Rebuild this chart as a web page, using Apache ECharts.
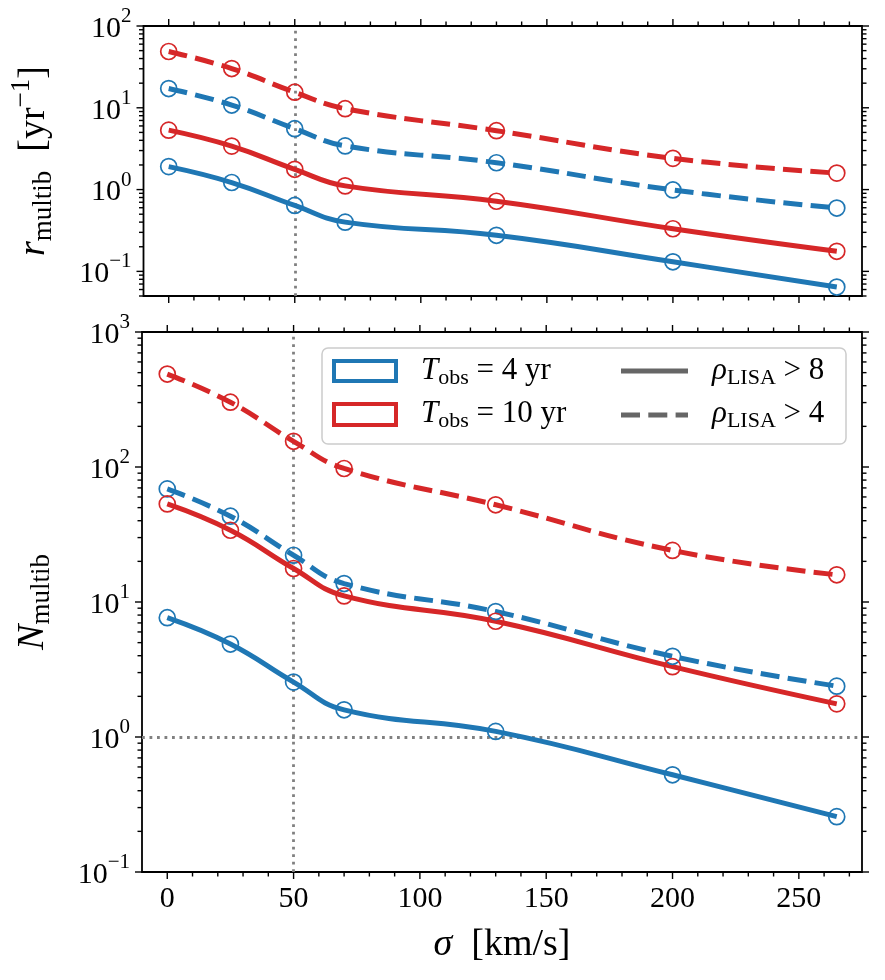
<!DOCTYPE html>
<html>
<head>
<meta charset="utf-8">
<script src="https://cdn.jsdelivr.net/npm/echarts@6/dist/echarts.min.js"></script>
<style>
  html, body { margin: 0; padding: 0; background: #fff; }
  #main { width: 885px; height: 980px; }
</style>
</head>
<body>
<div id="main"></div>
<script>
// sigma [km/s] of the simulated runs
const sigma = [0, 25, 50, 70, 130, 200, 265];

// top panel: rate of multiple binaries [1/yr]
const rate4_snr8 = [1.91, 1.22, 0.64, 0.40, 0.276, 0.131, 0.0643];
const rate4_snr4 = [17.2, 10.8, 5.55, 3.42, 2.13, 0.99, 0.595];
const rate10_snr8 = [5.33, 3.40, 1.77, 1.11, 0.72, 0.332, 0.176];
const rate10_snr4 = [48.8, 30.2, 15.5, 9.75, 5.25, 2.41, 1.59];

// bottom panel: number of multiple binaries
const num4_snr8 = [7.65, 4.88, 2.55, 1.59, 1.10, 0.525, 0.257];
const num4_snr4 = [68.8, 43.2, 22.2, 13.7, 8.5, 3.96, 2.38];
const num10_snr8 = [53.3, 34.0, 17.7, 11.1, 7.2, 3.32, 1.76];
const num10_snr4 = [488, 302, 155, 97.5, 52.5, 24.1, 15.9];

// axes
const xRange = [-10, 275];
const xMajorTicks = [0, 50, 100, 150, 200, 250];
const xMinorStep = 10;
const topRange = [0.05, 100];
const botRange = [0.1, 1000];
const logMantissas = [1, 2, 3, 4, 5, 6, 7, 8, 9];
const refSigma = 50;
const refCount = 1;

const SERIF = '"Liberation Serif", "DejaVu Serif", serif';
const BLUE = '#1f77b4', RED = '#d62728', GRAY = '#808080', LEG_GRAY = '#666666';
const DASH = [19, 8.3];
const DOT = [2.8, 4.7];

let chart = echarts.init(document.getElementById('main'));

let isPow10 = (v) => {
  let l = Math.log10(v);
  return Math.abs(l - Math.round(l)) < 1e-6;
};

let powLabel = (v) => {
  if (!isPow10(v)) return '';
  let e = Math.round(Math.log10(v));
  return '{b|10}{sup|' + (e < 0 ? '\u2212' + (-e) : e) + '}';
};

const labelRich = {
  b: { fontFamily: SERIF, fontSize: 30, lineHeight: 42, padding: [6, 0, 0, 0], verticalAlign: 'middle', color: '#000' },
  sup: { fontFamily: SERIF, fontSize: 21, lineHeight: 42, padding: [0, 0, 19, 0], verticalAlign: 'middle', color: '#000' }
};

const nameRich = {
  i: { fontFamily: SERIF, fontStyle: 'italic', fontSize: 38, lineHeight: 54, verticalAlign: 'middle', color: '#000' },
  n: { fontFamily: SERIF, fontSize: 38, lineHeight: 54, verticalAlign: 'middle', color: '#000' },
  sub: { fontFamily: SERIF, fontSize: 27, lineHeight: 54, padding: [18, 0, 0, 0], verticalAlign: 'middle', color: '#000' },
  sup: { fontFamily: SERIF, fontSize: 27, lineHeight: 54, padding: [0, 0, 26, 0], verticalAlign: 'middle', color: '#000' }
};

const legRich = {
  i: { fontFamily: SERIF, fontStyle: 'italic', fontSize: 31, lineHeight: 42, verticalAlign: 'middle', fill: '#000' },
  n: { fontFamily: SERIF, fontSize: 31, lineHeight: 42, verticalAlign: 'middle', fill: '#000' },
  s: { fontFamily: SERIF, fontSize: 22, lineHeight: 42, padding: [15, 0, 0, 0], verticalAlign: 'middle', fill: '#000' }
};

// tick positions for the custom tick painter
let logTicks = (range) => {
  let out = [];
  for (let e = -3; e <= 4; e++) {
    logMantissas.forEach((m) => {
      let v = Number((m * Math.pow(10, e)).toPrecision(6));
      if (v >= range[0] * 0.9999 && v <= range[1] * 1.0001) out.push([v, m === 1 ? 1 : 0]);
    });
  }
  return out;
};

let xTicks = () => {
  let out = [];
  for (let v = 0; v <= xRange[1]; v += xMinorStep) {
    out.push([v, xMajorTicks.includes(v) ? 1 : 0]);
  }
  return out;
};

let tickSeries = (grid, yRange) => {
  let data = [];
  xTicks().forEach(([v, major]) => data.push([v, yRange[0], major, 0]));
  logTicks(yRange).forEach(([v, major]) => data.push([xRange[0], v, major, 1]));
  return {
    type: 'custom',
    xAxisIndex: grid,
    yAxisIndex: grid,
    silent: true,
    clip: false,
    z: 10,
    data: data,
    renderItem: (params, api) => {
      let cs = params.coordSys;
      let p = api.coord([api.value(0), api.value(1)]);
      let len = api.value(2) ? 7 : 4.5;
      let st = { stroke: '#000', lineWidth: 1.4 };
      if (api.value(3) === 0) {
        let x = p[0];
        return {
          type: 'group', children: [
            { type: 'line', shape: { x1: x, y1: cs.y + cs.height, x2: x, y2: cs.y + cs.height + len }, style: st },
            { type: 'line', shape: { x1: x, y1: cs.y, x2: x, y2: cs.y - len }, style: st }
          ]
        };
      }
      let y = p[1];
      return {
        type: 'group', children: [
          { type: 'line', shape: { x1: cs.x - len, y1: y, x2: cs.x, y2: y }, style: st },
          { type: 'line', shape: { x1: cs.x + cs.width, y1: y, x2: cs.x + cs.width + len, y2: y }, style: st }
        ]
      };
    }
  };
};

let curve = (grid, ys, color, dashed, marks) => {
  let s = {
    type: 'line',
    xAxisIndex: grid,
    yAxisIndex: grid,
    data: sigma.map((x, i) => [x, ys[i]]),
    smooth: 0.45,
    symbol: 'circle',
    symbolSize: 16,
    itemStyle: { color: 'rgba(255,255,255,0)', borderColor: color, borderWidth: 1.7 },
    lineStyle: { color: color, width: 5, type: dashed ? DASH : 'solid', cap: 'butt' },
    emphasis: { disabled: true },
    z: 3
  };
  if (marks) {
    s.markLine = {
      silent: true,
      symbol: 'none',
      label: { show: false },
      lineStyle: { color: GRAY, type: DOT, width: 2.8 },
      data: marks,
      z: 2
    };
  }
  return s;
};

let xAxisDef = (grid, showLabels) => ({
  type: 'value',
  gridIndex: grid,
  min: xRange[0],
  max: xRange[1],
  splitNumber: 5,
  axisLine: { show: false },
  axisTick: { show: false },
  splitLine: { show: false },
  axisLabel: {
    show: showLabels,
    margin: 12,
    fontFamily: SERIF,
    fontSize: 30,
    color: '#000',
    formatter: (v) => (xMajorTicks.includes(v) ? String(v) : '')
  },
  name: showLabels ? '{i|\u03c3}{n|  [km/s]}' : '',
  nameLocation: 'middle',
  nameGap: 46,
  nameTextStyle: { rich: nameRich }
});

let yAxisDef = (grid, range, name) => ({
  type: 'log',
  logBase: 10,
  gridIndex: grid,
  min: range[0],
  max: range[1],
  axisLine: { show: false },
  axisTick: { show: false },
  splitLine: { show: false },
  minorTick: { show: false },
  axisLabel: {
    margin: 12,
    formatter: powLabel,
    rich: labelRich
  },
  name: name,
  nameLocation: 'middle',
  nameGap: 82,
  nameTextStyle: { rich: nameRich }
});

let gridBox = { show: true, borderColor: '#000', borderWidth: 1.8, backgroundColor: 'transparent' };

let option = {
  animation: false,
  backgroundColor: '#fff',
  grid: [
    Object.assign({ left: 142, top: 26, width: 720, height: 270 }, gridBox),
    Object.assign({ left: 142, top: 332, width: 720, height: 540 }, gridBox)
  ],
  xAxis: [xAxisDef(0, false), xAxisDef(1, true)],
  yAxis: [
    yAxisDef(0, topRange, '{i|r}{sub|multib}{n|  [yr}{sup|\u22121}{n|]}'),
    yAxisDef(1, botRange, '{i|N}{sub|multib}')
  ],
  series: [
    curve(0, rate4_snr8, BLUE, false, [{ xAxis: refSigma }]),
    curve(0, rate4_snr4, BLUE, true),
    curve(0, rate10_snr8, RED, false),
    curve(0, rate10_snr4, RED, true),
    curve(1, num4_snr8, BLUE, false, [{ xAxis: refSigma }, { yAxis: refCount }]),
    curve(1, num4_snr4, BLUE, true),
    curve(1, num10_snr8, RED, false),
    curve(1, num10_snr4, RED, true),
    tickSeries(0, topRange),
    tickSeries(1, botRange)
  ],
  graphic: [
    { type: 'rect', z: 100, shape: { x: 322, y: 348, width: 524, height: 96, r: 6 },
      style: { fill: 'rgba(255,255,255,0.8)', stroke: '#cccccc', lineWidth: 1.5 } },
    { type: 'rect', z: 101, shape: { x: 334, y: 361, width: 62, height: 20 },
      style: { fill: '#fff', stroke: BLUE, lineWidth: 4 } },
    { type: 'rect', z: 101, shape: { x: 334, y: 404, width: 62, height: 21 },
      style: { fill: '#fff', stroke: RED, lineWidth: 4 } },
    { type: 'text', z: 101, x: 421, y: 371,
      style: { text: '{i|T}{s|obs}{n| = 4 yr}', rich: legRich, verticalAlign: 'middle', align: 'left' } },
    { type: 'text', z: 101, x: 421, y: 414,
      style: { text: '{i|T}{s|obs}{n| = 10 yr}', rich: legRich, verticalAlign: 'middle', align: 'left' } },
    { type: 'line', z: 101, shape: { x1: 621, y1: 371, x2: 688, y2: 371 },
      style: { stroke: LEG_GRAY, lineWidth: 5 } },
    { type: 'line', z: 101, shape: { x1: 621, y1: 415, x2: 688, y2: 415 },
      style: { stroke: LEG_GRAY, lineWidth: 5, lineDash: DASH } },
    { type: 'text', z: 101, x: 712, y: 371,
      style: { text: '{i|\u03c1}{s|LISA}{n| > 8}', rich: legRich, verticalAlign: 'middle', align: 'left' } },
    { type: 'text', z: 101, x: 712, y: 414,
      style: { text: '{i|\u03c1}{s|LISA}{n| > 4}', rich: legRich, verticalAlign: 'middle', align: 'left' } }
  ]
};

chart.setOption(option);
</script>
</body>
</html>
